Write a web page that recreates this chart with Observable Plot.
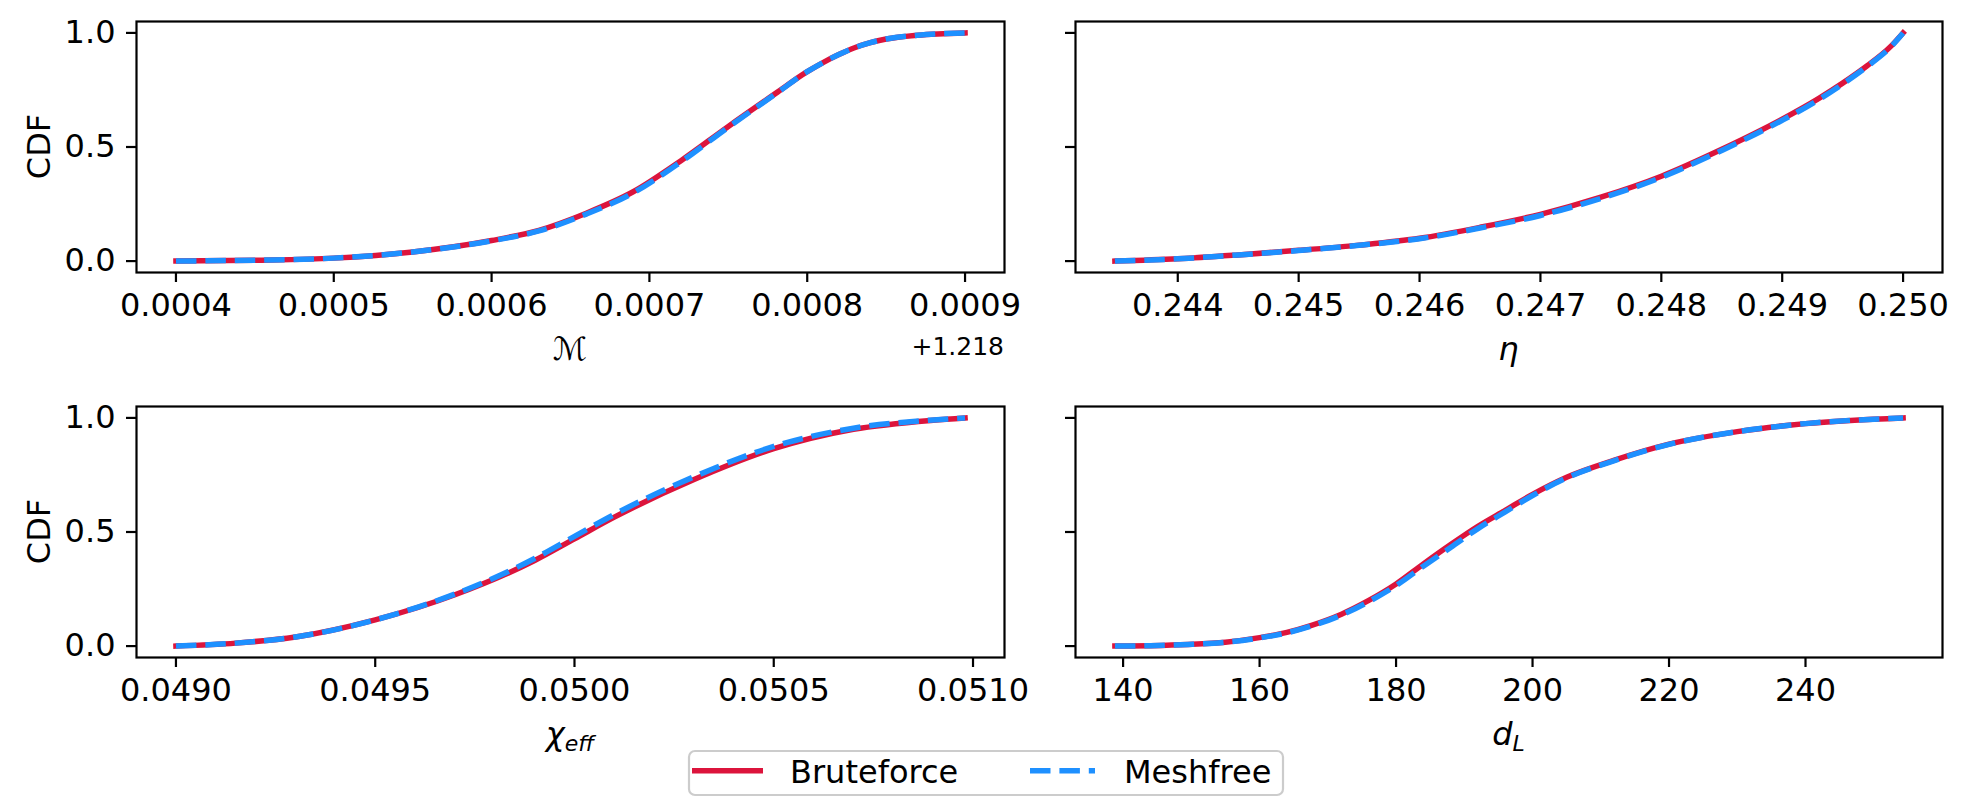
<!DOCTYPE html>
<html><head><meta charset="utf-8">
<script src="https://cdn.jsdelivr.net/npm/d3@7"></script>
<script src="https://cdn.jsdelivr.net/npm/@observablehq/plot@0.6"></script>
<style>
body{margin:0;background:#fff;}
#fig{position:relative;width:1970px;height:803px;font-family:"DejaVu Sans";background:#fff;}
</style></head><body><div id="fig"></div>
<script>
// ---------- data ----------
const seriesNames = ["Bruteforce", "Meshfree"];
const seriesColors = ["#dc143c", "#1e90ff"];

// chirp mass (offset +1.218)
const mcX     = [1.2184, 1.21845, 1.2185, 1.21855, 1.2186, 1.21863, 1.21866, 1.21869, 1.21872, 1.21875, 1.21878, 1.2188, 1.21881, 1.21882, 1.21883, 1.21884, 1.21885, 1.21887, 1.2189];
const mcBrute = [0, 0.004, 0.013, 0.04, 0.09, 0.135, 0.21, 0.305, 0.44, 0.59, 0.735, 0.83, 0.87, 0.905, 0.935, 0.957, 0.973, 0.99, 1.0];
const mcMesh  = [0, 0.004, 0.013, 0.04, 0.089, 0.132, 0.206, 0.3, 0.435, 0.587, 0.733, 0.83, 0.87, 0.905, 0.935, 0.957, 0.973, 0.99, 1.0];
const mcTicks = [1.2184, 1.2185, 1.2186, 1.2187, 1.2188, 1.2189];
const mcTickLabels = ["0.0004", "0.0005", "0.0006", "0.0007", "0.0008", "0.0009"];

// symmetric mass ratio
const etaX     = [0.24348, 0.244, 0.2445, 0.245, 0.2455, 0.246, 0.2465, 0.247, 0.2475, 0.248, 0.2485, 0.249, 0.2493, 0.2495, 0.2497, 0.2499, 0.25];
const etaBrute = [0, 0.01, 0.027, 0.047, 0.07, 0.10, 0.148, 0.205, 0.28, 0.372, 0.49, 0.622, 0.712, 0.78, 0.855, 0.942, 1.0];
const etaMesh  = [0, 0.01, 0.027, 0.046, 0.069, 0.098, 0.145, 0.2, 0.275, 0.367, 0.485, 0.617, 0.707, 0.776, 0.852, 0.94, 1.0];
const etaTicks = [0.244, 0.245, 0.246, 0.247, 0.248, 0.249, 0.250];
const etaTickLabels = ["0.244", "0.245", "0.246", "0.247", "0.248", "0.249", "0.250"];

// effective spin
const chiX     = [0.0490, 0.04915, 0.0493, 0.0495, 0.0497, 0.0499, 0.0500, 0.0501, 0.0503, 0.0505, 0.0507, 0.0509, 0.05098];
const chiBrute = [0, 0.013, 0.04, 0.115, 0.225, 0.375, 0.47, 0.565, 0.73, 0.865, 0.95, 0.99, 1.0];
const chiMesh  = [0, 0.013, 0.04, 0.115, 0.228, 0.384, 0.481, 0.577, 0.742, 0.875, 0.955, 0.991, 1.0];
const chiTicks = [0.0490, 0.0495, 0.0500, 0.0505, 0.0510];
const chiTickLabels = ["0.0490", "0.0495", "0.0500", "0.0505", "0.0510"];

// luminosity distance
const dlX     = [138.8, 144, 149.5, 155, 160, 164, 167.5, 172, 176, 180, 184, 188, 192, 196, 200, 205, 212, 220, 230, 240, 254.3];
const dlBrute = [0, 0.002, 0.007, 0.017, 0.037, 0.06, 0.09, 0.14, 0.2, 0.272, 0.36, 0.445, 0.525, 0.595, 0.665, 0.74, 0.815, 0.885, 0.94, 0.975, 1.0];
const dlMesh  = [0, 0.002, 0.007, 0.017, 0.036, 0.058, 0.087, 0.136, 0.195, 0.265, 0.35, 0.432, 0.515, 0.588, 0.66, 0.737, 0.813, 0.884, 0.94, 0.975, 1.0];
const dlTicks = [140, 160, 180, 200, 220, 240];
const dlTickLabels = ["140", "160", "180", "200", "220", "240"];

const yTicks = [0, 0.5, 1.0];
const yTickLabels = ["0.0", "0.5", "1.0"];

// ---------- drawing ----------
const W = 1970, H = 803;
const fig = document.getElementById("fig");
const FONT = "DejaVu Sans";

function panel(o) {
  const lo = d3.min(o.xs), hi = d3.max(o.xs), pad = (hi - lo) * 0.05;
  const bruteRows = o.xs.map((x, i) => ({x, y: o.brute[i]}));
  const meshRows = o.xs.map((x, i) => ({x, y: o.mesh[i]}));
  const svg = Plot.plot({
    width: W, height: H,
    marginLeft: o.f.l, marginRight: W - o.f.r, marginTop: o.f.t, marginBottom: H - o.f.b,
    x: {domain: [lo - pad, hi + pad]},
    y: {domain: [-0.05, 1.05]},
    style: {fontFamily: FONT, fontSize: "32px", background: "transparent", overflow: "visible", position: "absolute", left: "0px", top: "0px", maxWidth: "none"},
    marks: [
      Plot.line(bruteRows, {x: "x", y: "y", stroke: seriesColors[0], strokeWidth: 5.5, strokeLinecap: "square", curve: "monotone-x"}),
      Plot.line(meshRows, {x: "x", y: "y", stroke: seriesColors[1], strokeWidth: 5.5, strokeDasharray: "20.5,8.9", strokeLinecap: "butt", curve: "monotone-x"}),
      Plot.frame({stroke: "black", strokeWidth: 2.2}),
      Plot.axisX({ticks: o.ticks, tickFormat: d => o.tickLabels[o.ticks.indexOf(d)], tickSize: 10, tickPadding: 11, strokeWidth: 2.2, fontSize: 32, label: null, fill: "black"}),
      Plot.axisY({ticks: yTicks, tickFormat: o.yLabels ? (d => yTickLabels[yTicks.indexOf(d)]) : (() => ""), tickSize: 10, tickPadding: 11, strokeWidth: 2.2, fontSize: 32, label: null, fill: "black"})
    ]
  });
  const s = d3.select(svg);
  const cx = (o.f.l + o.f.r) / 2;
  const t = s.append("text").attr("x", cx).attr("y", o.labelY).attr("text-anchor", "middle")
    .attr("font-family", FONT).attr("font-size", 32).attr("fill", "black");
  t.append("tspan").attr("font-style", o.mainItalic ? "italic" : "normal").text(o.label);
  if (o.sub) t.append("tspan").attr("font-style", "italic").attr("font-size", 22).attr("dy", 6).text(o.sub);
  if (o.yLabels) {
    s.append("text").attr("transform", `translate(50,${(o.f.t + o.f.b) / 2}) rotate(-90)`)
      .attr("text-anchor", "middle").attr("font-family", FONT).attr("font-size", 32).attr("fill", "black").text("CDF");
  }
  if (o.offset) {
    s.append("text").attr("x", o.f.r).attr("y", 355).attr("text-anchor", "end")
      .attr("font-family", FONT).attr("font-size", 25).attr("fill", "black").text(o.offset);
  }
  fig.appendChild(svg);
}

const rowTop = {t: 21, b: 272}, rowBot = {t: 406, b: 657};
const colLeft = {l: 136, r: 1004}, colRight = {l: 1075, r: 1942};

panel({xs: mcX, brute: mcBrute, mesh: mcMesh, ticks: mcTicks, tickLabels: mcTickLabels, f: {...colLeft, ...rowTop}, yLabels: true, label: "ℳ", mainItalic: false, labelY: 360, offset: "+1.218"});
panel({xs: etaX, brute: etaBrute, mesh: etaMesh, ticks: etaTicks, tickLabels: etaTickLabels, f: {...colRight, ...rowTop}, yLabels: false, label: "η", mainItalic: true, labelY: 360});
panel({xs: chiX, brute: chiBrute, mesh: chiMesh, ticks: chiTicks, tickLabels: chiTickLabels, f: {...colLeft, ...rowBot}, yLabels: true, label: "χ", sub: "eff", mainItalic: true, labelY: 745});
panel({xs: dlX, brute: dlBrute, mesh: dlMesh, ticks: dlTicks, tickLabels: dlTickLabels, f: {...colRight, ...rowBot}, yLabels: false, label: "d", sub: "L", mainItalic: true, labelY: 745});

// legend
const lg = d3.select(fig).append("svg").attr("width", 598).attr("height", 48)
  .style("position", "absolute").style("left", "687px").style("top", "749px");
lg.append("rect").attr("x", 2).attr("y", 2).attr("width", 594).attr("height", 44).attr("rx", 6)
  .attr("fill", "white").attr("stroke", "#cccccc").attr("stroke-width", 2.2);
const handles = [{x1: 5, x2: 76, tx: 103, dash: null}, {x1: 343, x2: 408, tx: 437, dash: "20.5,8.9"}];
seriesNames.forEach((name, i) => {
  const h = handles[i];
  const ln = lg.append("line").attr("x1", h.x1).attr("x2", h.x2).attr("y1", 21.7).attr("y2", 21.7)
    .attr("stroke", seriesColors[i]).attr("stroke-width", 5.5);
  if (h.dash) ln.attr("stroke-dasharray", h.dash);
  lg.append("text").attr("x", h.tx).attr("y", 33.7).attr("font-family", FONT).attr("font-size", 32).attr("fill", "black").text(name);
});
</script></body></html>
